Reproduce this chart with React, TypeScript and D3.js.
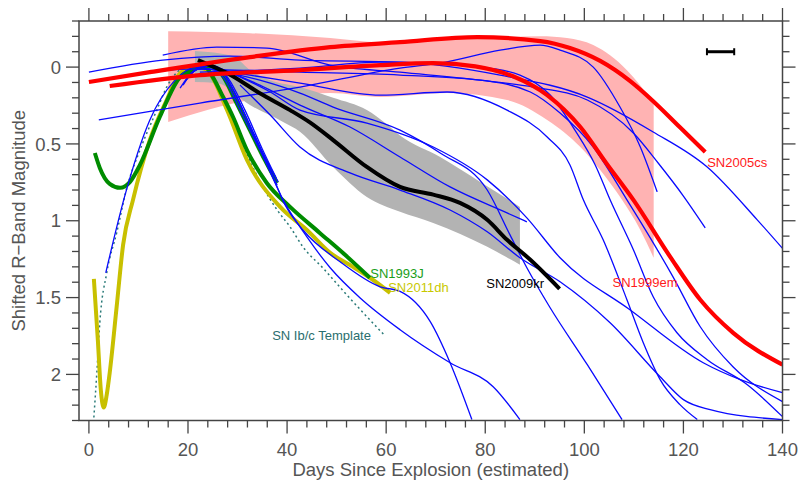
import React from 'react';
import * as d3 from 'd3';

type P = [number, number];

// ---- axes ----
const xDomain: [number, number] = [-2, 140];
const yDomain: [number, number] = [-0.3, 2.3];
const xMajorTicks = [0, 20, 40, 60, 80, 100, 120, 140];
const xTickLabels = ['0', '20', '40', '60', '80', '100', '120', '140'];
const yMajorTicks = [0, 0.5, 1, 1.5, 2];
const yTickLabels = ['0', '0.5', '1', '1.5', '2'];
const xMinorStep = 4;
const yMinorStep = 0.1;

// ---- bands (day, mag) ----
const pinkTop: P[] = [[16, -0.234], [32.5, -0.221], [48.7, -0.189], [58.8, -0.162], [79.0, -0.189], [91.1, -0.201], [96.5, -0.189], [101.8, -0.143], [108.6, 0.02], [114, 0.234]];
const pinkBottom: P[] = [[16, 0.357], [32.5, 0.214], [48.7, 0.169], [58.8, 0.195], [72.3, 0.169], [84.4, 0.214], [92.5, 0.344], [99.2, 0.52], [103.2, 0.67], [107.6, 0.864], [111.3, 1.06], [114, 1.241]];
const greyTop: P[] = [[21.4, -0.104], [29.1, -0.072], [30.5, -0.04], [32.5, 0.02], [36.6, 0.085], [42.6, 0.13], [49.3, 0.2], [56.1, 0.28], [59.8, 0.364], [62.8, 0.445], [70.9, 0.585], [79.0, 0.747], [87.0, 0.91]];
const greyBottom: P[] = [[21.4, 0.097], [25.8, 0.104], [32.5, 0.247], [39.2, 0.357], [42.6, 0.42], [49.3, 0.65], [56.1, 0.845], [62.8, 0.942], [69.5, 1.014], [80.4, 1.17], [87.0, 1.287]];

// ---- named supernovae ----
const sn2009kr: P[] = [[22.0, -0.045], [28.5, 0.05], [34.5, 0.17], [40.6, 0.28], [44.6, 0.36], [49.3, 0.475], [56.1, 0.65], [62.8, 0.78], [69.5, 0.83], [74.9, 0.884], [80.4, 0.994], [84.4, 1.124], [89.1, 1.254], [95.0, 1.443]];
const sn2005cs: P[] = [[0, 0.097], [12.3, 0.033], [32.5, -0.065], [48.7, -0.13], [62.8, -0.162], [78.4, -0.195], [91.1, -0.169], [97.1, -0.124], [103.2, -0.04], [109.2, 0.09], [113.9, 0.222], [119.3, 0.392], [124.4, 0.552]];
const sn1999em: P[] = [[4.2, 0.123], [22.4, 0.052], [42.6, 0.02], [58.8, -0.013], [69.5, -0.026], [78.0, -0.005], [85.6, 0.06], [92.5, 0.182], [99.2, 0.39], [104.4, 0.624], [109.9, 0.864], [117.3, 1.233], [123.4, 1.514], [130.1, 1.731], [140, 1.937]];
const sn1993J: P[] = [[1.2, 0.559], [2.2, 0.656], [4.2, 0.76], [6.3, 0.786], [8.3, 0.747], [10.3, 0.637], [14.3, 0.325], [18.4, 0.065], [21.8, 0.0065], [23.4, 0], [25.0, 0.065], [26.9, 0.182], [29.1, 0.325], [31.9, 0.54], [35.9, 0.754], [40.6, 0.91], [46.6, 1.079], [51.7, 1.222], [56.7, 1.371]];
const sn1993Jb: P[] = [[19.4, 0.052], [21.8, 0.0065], [24.4, -0.0065], [26.9, 0.052], [29.5, 0.214], [32.5, 0.41], [35.5, 0.604], [38.0, 0.754]];
const sn2011dh: P[] = [[1.0, 1.378], [1.8, 1.775], [2.4, 2.099], [3.0, 2.216], [3.6, 2.132], [4.2, 1.989], [5.6, 1.56], [6.9, 1.157], [8.9, 0.864], [12.3, 0.474], [15.7, 0.214], [18.4, 0.039], [21.4, -0.0065], [23.8, 0.0195], [27.9, 0.28], [31.9, 0.604], [38.6, 0.91], [44.0, 1.06], [48.7, 1.209], [53.3, 1.3], [57.3, 1.384], [60.8, 1.469]];
const ibcTemplate: P[] = [[1.0, 2.28], [1.6, 1.989], [2.2, 1.664], [3.6, 1.339], [5.6, 1.079], [7.7, 0.78], [10.3, 0.54], [13.7, 0.28], [15.7, 0.13], [17.8, 0.033], [20.0, -0.0065], [22.0, -0.0065], [24.4, 0.052], [27.5, 0.247], [31.5, 0.54], [34.9, 0.767], [38.0, 0.93], [40.6, 1.04], [43.2, 1.17], [47.3, 1.31], [51.7, 1.47], [55.4, 1.6], [59.8, 1.75]];

// ---- other type II / IIb curves (thin blue) ----
const blue1: P[] = [[3.4, 1.339], [7.3, 0.832], [12.3, 0.344], [17.4, 0.085], [21.4, 0], [24.4, -0.0065], [27.5, 0.085], [30.5, 0.28], [34.5, 0.54], [38.0, 0.767]];
const blue2: P[] = [[19.0, 0.117], [21.4, 0.0195], [24.0, -0.013], [26.9, 0.033], [30.5, 0.247], [34.5, 0.526], [38.2, 0.747]];
const blue3: P[] = [[19.6, 0.085], [22.4, 0], [25.4, -0.0065], [28.1, 0.072], [31.5, 0.28], [34.9, 0.526], [37.8, 0.721]];
const blue4: P[] = [[20.4, 0.052], [23.4, -0.0065], [26.0, 0.0065], [28.9, 0.137], [32.5, 0.377], [36.6, 0.67], [39.6, 0.897], [43.2, 1.06], [50.7, 1.267], [58.8, 1.43], [62.8, 1.46], [68.9, 1.657], [72.9, 1.924], [77.3, 2.294]];
const blue5: P[] = [[18.4, 0.137], [21.4, 0.0195], [24.4, -0.0065], [27.5, 0.058], [31.5, 0.312], [35.5, 0.604], [39.2, 0.864], [44.0, 1.105], [48.7, 1.306], [54.7, 1.501], [62.8, 1.709], [72.9, 1.924], [81.6, 2.08], [87.0, 2.294]];
const blue6: P[] = [[2.0, 0.344], [22.4, 0.234], [42.6, 0.13], [62.8, 0.0065], [70.9, -0.026], [83.0, -0.11], [91.1, -0.143], [95.1, -0.11], [101.8, 0], [107.2, 0.26], [111.3, 0.52], [114.7, 0.812]];
const blue7: P[] = [[0, 0.033], [14.9, -0.045], [28.5, -0.072], [42.6, -0.045], [62.8, -0.033], [83.0, 0.052], [100.6, 0.195], [113.9, 0.422], [124.8, 0.65], [134.9, 0.994], [140, 1.18]];
const blue8: P[] = [[14.9, -0.078], [25.8, -0.13], [35.9, -0.124], [48.7, -0.013], [62.8, 0.033], [79.0, 0.085], [89.7, 0.13], [100.6, 0.214], [109.9, 0.429], [114.9, 0.624], [120.0, 0.839], [124.4, 1.046]];
const blue9: P[] = [[5.9, 0.072], [19.8, 0.013], [42.6, 0.033], [62.8, 0.052], [79.0, 0.085], [89.1, 0.162], [95.1, 0.299], [101.8, 0.52], [108.6, 0.864], [112.7, 1.079], [117.9, 1.365], [123.4, 1.69], [130.0, 1.95], [140, 2.177]];
const blue10: P[] = [[20.4, -0.0065], [32.5, 0.052], [42.6, 0.104], [58.8, 0.182], [72.3, 0.162], [84.4, 0.28], [92.5, 0.455], [97.1, 0.637], [99.8, 0.864], [103.8, 1.124], [108.6, 1.514], [111.9, 1.794], [115.3, 2.034], [119.3, 2.197], [122.8, 2.294]];
const blue11: P[] = [[22.4, 0.033], [42.6, 0.0065], [58.8, -0.033], [79.0, 0], [87.0, 0.052], [93.1, 0.182], [98.1, 0.41], [102.2, 0.637], [105.2, 0.864], [109.9, 1.189], [113.9, 1.495], [118.7, 1.729], [124.8, 1.904], [132.9, 2.067], [140, 2.275]];
const blue12: P[] = [[23.4, 0.0065], [34.5, 0.085], [42.6, 0.169], [49.3, 0.26], [62.8, 0.41], [70.9, 0.559], [80.4, 0.8], [85.0, 1.092], [88.4, 1.306], [93.1, 1.566], [100.6, 1.937], [107.6, 2.294]];
const blue13: P[] = [[25.4, -0.0065], [34.5, 0.117], [42.6, 0.247], [52.7, 0.39], [62.8, 0.585], [72.9, 0.78], [84.4, 0.949], [88.4, 1.007]];
const blue14: P[] = [[27.5, 0.0195], [36.6, 0.162], [42.6, 0.28], [56.1, 0.364], [69.5, 0.52], [80.4, 0.734], [88.4, 0.981], [95.1, 1.241], [109.2, 1.579], [124.0, 1.924], [131.5, 2.034], [140, 2.119]];
const blue15: P[] = [[30.5, 0.117], [36.6, 0.312], [42.6, 0.52], [52.7, 0.689], [62.8, 0.8], [72.9, 0.93], [80.4, 1.072], [87.0, 1.241], [95.1, 1.397], [105.2, 1.664], [115.3, 2.015], [120.0, 2.164], [125.4, 2.229], [140, 2.294]];
const blueCurves = [blue1, blue2, blue3, blue4, blue5, blue6, blue7, blue8, blue9, blue10, blue11, blue12, blue13, blue14, blue15];

// error bar (typical uncertainty)
const errorBarDay = 127.5;
const errorBarHalf = 2.75;
const errorBarMag = -0.1;

// labels
const labelNames = ['SN2005cs', 'SN1999em', 'SN2009kr', 'SN1993J', 'SN2011dh', 'SN Ib/c Template'];
const labelDays = [124.8, 105.7, 80.2, 56.8, 60.4, 37.0];
const labelMags = [0.65, 1.43, 1.435, 1.37, 1.465, 1.775];
const labelColors = ['#ff1a1a', '#ff1a1a', '#000000', '#1a9e1a', '#c8c800', '#2a6e6e'];

const FONT = '"Liberation Sans", Arial, Helvetica, sans-serif';

export default function App() {
  const left = 79, right = 782.5, top = 21, bottom = 420.5;
  const x = d3.scaleLinear().domain(xDomain).range([left, right]);
  const y = d3.scaleLinear().domain(yDomain).range([top, bottom]);
  const line = d3.line<P>().x(d => x(d[0])).y(d => y(d[1])).curve(d3.curveMonotoneX);

  const areaPath = (t: P[], b: P[]) => {
    const topPath = line(t) as string;
    const botRev = line([...b].reverse()) as string;
    return topPath + 'L' + botRev.slice(1) + 'Z';
  };

  const xMinor = d3.range(0, 140 + 0.001, xMinorStep);
  const yMinor = d3.range(-3, 24).map(i => i * yMinorStep);
  const axisColor = '#444';
  const textColor = '#555';

  return (
    <svg width={799} height={481} style={{ position: 'absolute', left: 0, top: 0, background: '#fff' }} fontFamily={FONT}>
      <defs>
        <clipPath id="plot">
          <rect x={left} y={top} width={right - left} height={bottom - top} />
        </clipPath>
      </defs>
      <rect x={0} y={0} width={799} height={481} fill="#fff" />
      <g clipPath="url(#plot)">
        <path d={areaPath(pinkTop, pinkBottom)} fill="#ffb3b3" stroke="none" />
        <path d={areaPath(greyTop, greyBottom)} fill="#b3b3b3" stroke="none" />
        <path d={line(ibcTemplate) as string} fill="none" stroke="#2a7a78" strokeWidth={1.5} strokeDasharray="2 3" />
        <path d={line(sn2011dh) as string} fill="none" stroke="#c8c000" strokeWidth={4} strokeLinejoin="round" />
        <path d={line(sn1993J) as string} fill="none" stroke="#008c00" strokeWidth={4} strokeLinejoin="round" />
        <path d={line(sn1993Jb) as string} fill="none" stroke="#008c00" strokeWidth={4} strokeLinejoin="round" />
        {blueCurves.map((c, i) => (
          <path key={i} d={line(c) as string} fill="none" stroke="#0a0aff" strokeWidth={1.3} />
        ))}
        <path d={line(sn2009kr) as string} fill="none" stroke="#000" strokeWidth={4} />
        <path d={line(sn1999em) as string} fill="none" stroke="#ff0000" strokeWidth={4.2} />
        <path d={line(sn2005cs) as string} fill="none" stroke="#ff0000" strokeWidth={4.2} />
      </g>

      {/* error bar */}
      <g stroke="#000" strokeWidth={3}>
        <line x1={x(errorBarDay - errorBarHalf)} x2={x(errorBarDay + errorBarHalf)} y1={y(errorBarMag)} y2={y(errorBarMag)} />
        <line x1={x(errorBarDay - errorBarHalf)} x2={x(errorBarDay - errorBarHalf)} y1={y(errorBarMag) - 3.5} y2={y(errorBarMag) + 3.5} strokeWidth={2} />
        <line x1={x(errorBarDay + errorBarHalf)} x2={x(errorBarDay + errorBarHalf)} y1={y(errorBarMag) - 3.5} y2={y(errorBarMag) + 3.5} strokeWidth={2} />
      </g>

      {/* labels */}
      {labelNames.map((n, i) => (
        <text key={n} x={x(labelDays[i])} y={y(labelMags[i])} fill={labelColors[i]} fontSize={13}>{n}</text>
      ))}

      {/* frame */}
      <rect x={left} y={top} width={right - left} height={bottom - top} fill="none" stroke={axisColor} strokeWidth={1.5} />

      {/* ticks */}
      {xMinor.map(v => {
        const major = xMajorTicks.includes(v);
        const len = major ? 13 : 7;
        return (
          <g key={'xt' + v} stroke={axisColor} strokeWidth={1.3}>
            <line x1={x(v)} x2={x(v)} y1={bottom} y2={bottom + len} />
            <line x1={x(v)} x2={x(v)} y1={top} y2={top - len} />
          </g>
        );
      })}
      {yMinor.map(v => {
        const major = yMajorTicks.some(t => Math.abs(t - v) < 1e-6);
        const len = major ? 13 : 7;
        return (
          <g key={'yt' + v} stroke={axisColor} strokeWidth={1.3}>
            <line x1={left} x2={left - len} y1={y(v)} y2={y(v)} />
            <line x1={right} x2={right + len} y1={y(v)} y2={y(v)} />
          </g>
        );
      })}

      {xMajorTicks.map((v, i) => (
        <text key={'xl' + v} x={x(v)} y={456} textAnchor="middle" fontSize={18.5} fill={textColor}>{xTickLabels[i]}</text>
      ))}
      {yMajorTicks.map((v, i) => (
        <text key={'yl' + v} x={61} y={y(v)} dy="0.36em" textAnchor="end" fontSize={18.5} fill={textColor}>{yTickLabels[i]}</text>
      ))}

      <text x={(left + right) / 2} y={476} textAnchor="middle" fontSize={18.5} fill={textColor}>Days Since Explosion (estimated)</text>
      <text transform={`translate(25, ${(top + bottom) / 2}) rotate(-90)`} textAnchor="middle" fontSize={18.5} fill={textColor}>Shifted R−Band Magnitude</text>
    </svg>
  );
}
